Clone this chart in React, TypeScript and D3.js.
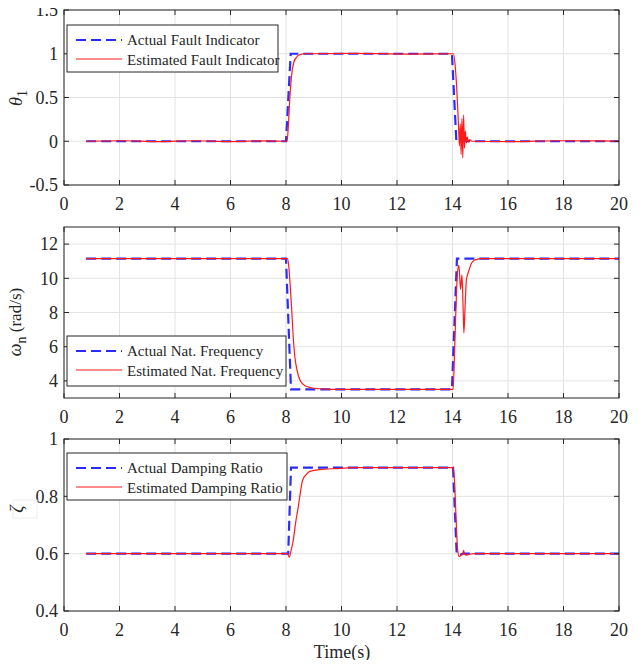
import React from 'react';
import * as d3 from 'd3';

// time axis ticks shared by all three panels
const timeTicks = [0, 2, 4, 6, 8, 10, 12, 14, 16, 18, 20];

// panel 1 : fault indicator theta_1
const actualFaultT = [0.8, 8.0, 8.17, 13.98, 14.14, 20];
const actualFaultV = [0, 0, 1, 1, 0, 0];
const estFaultT = [0.8, 2.1, 3.4, 4.7, 6.0, 7.3, 8.04, 8.08, 8.14, 8.2, 8.28, 8.38, 8.5, 8.7, 10.5, 12.4, 14.03, 14.1, 14.17, 14.22, 14.25, 14.28, 14.31, 14.34, 14.37, 14.4, 14.43, 14.46, 14.5, 14.53, 14.57, 14.62, 14.7, 16.2, 17.8, 19.3, 20];
const estFaultV = [0, 0.006, -0.005, 0.006, -0.004, 0.005, 0, 0.15, 0.5, 0.75, 0.9, 0.96, 0.99, 1, 1.005, 0.996, 1, 0.85, 0.5, 0.15, -0.05, 0.2, -0.15, 0.26, -0.19, 0.3, -0.08, 0.12, -0.02, 0.05, -0.01, 0.02, 0, -0.005, 0.006, 0.004, 0];
const faultTicks = [-0.5, 0, 0.5, 1, 1.5];

// panel 2 : natural frequency
const actualFreqT = [0.8, 8.0, 8.18, 13.98, 14.16, 20];
const actualFreqV = [11.15, 11.15, 3.5, 3.5, 11.15, 11.15];
const estFreqT = [0.8, 8.05, 8.1, 8.15, 8.2, 8.26, 8.32, 8.4, 8.5, 8.62, 8.75, 8.9, 9.2, 9.6, 10.2, 14.02, 14.08, 14.14, 14.19, 14.23, 14.29, 14.34, 14.38, 14.41, 14.45, 14.5, 14.56, 14.62, 14.69, 14.78, 14.88, 15.0, 20];
const estFreqV = [11.15, 11.15, 10.7, 9.6, 8.3, 6.6, 5.4, 4.6, 4.05, 3.8, 3.67, 3.6, 3.54, 3.51, 3.5, 3.5, 6.0, 9.0, 10.5, 10.76, 9.35, 10.2, 8.4, 6.8, 8.2, 9.9, 10.3, 10.6, 10.9, 11.05, 11.1, 11.15, 11.15];
const freqTicks = [4, 6, 8, 10, 12];

// panel 3 : damping ratio
const actualDampT = [0.8, 8.08, 8.18, 14.02, 14.15, 14.22, 14.4, 20];
const actualDampV = [0.6, 0.6, 0.9, 0.9, 0.6, 0.595, 0.6, 0.6];
const estDampT = [0.8, 8.05, 8.12, 8.18, 8.26, 8.35, 8.44, 8.52, 8.6, 8.72, 8.86, 9.2, 9.8, 10.5, 14.03, 14.08, 14.13, 14.18, 14.24, 14.3, 14.36, 14.4, 14.44, 14.5, 14.6, 14.8, 20];
const estDampV = [0.6, 0.6, 0.588, 0.61, 0.646, 0.71, 0.762, 0.815, 0.857, 0.875, 0.887, 0.893, 0.897, 0.9, 0.9, 0.84, 0.72, 0.62, 0.59, 0.595, 0.597, 0.612, 0.597, 0.595, 0.598, 0.6, 0.6];
const dampTicks = [0.4, 0.6, 0.8, 1];

const FONT = 'Liberation Serif, Times New Roman, serif';
const INK = '#262626';
const BLUE = '#2b2bff';
const RED = '#ff1a1a';
const LEFT = 64;
const RIGHT = 619;

const x = d3.scaleLinear().domain([0, 20]).range([LEFT, RIGHT]);

const zip = (t, v) => t.map((d, i) => [d, v[i]]);

const Panel = ({ id, top, bottom, domain, ticks, actual, est, legend, ylabel }) => {
  const y = d3.scaleLinear().domain(domain).range([bottom, top]);
  const lineA = d3.line().x((d) => x(d[0])).y((d) => y(d[1]));
  const lineE = d3.line().x((d) => x(d[0])).y((d) => y(d[1])).curve(d3.curveMonotoneX);
  return (
    <g>
      <defs>
        <clipPath id={id}>
          <rect x={LEFT} y={top} width={RIGHT - LEFT} height={bottom - top} />
        </clipPath>
      </defs>
      <rect x={LEFT} y={top} width={RIGHT - LEFT} height={bottom - top} fill="#fff" />
      {/* grid */}
      {timeTicks.map((t) => (
        <line key={'gx' + t} x1={x(t)} x2={x(t)} y1={top} y2={bottom} stroke="#e3e3e3" />
      ))}
      {ticks.map((v) => (
        <line key={'gy' + v} x1={LEFT} x2={RIGHT} y1={y(v)} y2={y(v)} stroke="#e3e3e3" />
      ))}
      <g clipPath={`url(#${id})`}>
        <path d={lineA(zip(actual[0], actual[1]))} fill="none" stroke={BLUE} strokeWidth={2.2} strokeDasharray="10 5" />
        <path d={lineE(zip(est[0], est[1]))} fill="none" stroke={RED} strokeWidth={1.2} />
      </g>
      {/* box + inward ticks */}
      <rect x={LEFT} y={top} width={RIGHT - LEFT} height={bottom - top} fill="none" stroke={INK} strokeWidth={1} />
      {timeTicks.map((t) => (
        <g key={'tx' + t}>
          <line x1={x(t)} x2={x(t)} y1={bottom} y2={bottom - 5} stroke={INK} />
          <line x1={x(t)} x2={x(t)} y1={top} y2={top + 5} stroke={INK} />
          <text x={x(t)} y={bottom + 25} textAnchor="middle" fontSize={18} fill={INK}>{t}</text>
        </g>
      ))}
      {ticks.map((v) => (
        <g key={'ty' + v}>
          <line x1={LEFT} x2={LEFT + 5} y1={y(v)} y2={y(v)} stroke={INK} />
          <line x1={RIGHT} x2={RIGHT - 5} y1={y(v)} y2={y(v)} stroke={INK} />
          <text x={LEFT - 6} y={y(v)} dy="0.35em" textAnchor="end" fontSize={18} fill={INK}>{String(v)}</text>
        </g>
      ))}
      {/* legend */}
      <g>
        <rect x={legend.x} y={legend.y} width={legend.w} height={legend.h} fill="#fff" stroke={INK} strokeWidth={1} />
        <line x1={legend.x + 9} x2={legend.x + 55} y1={legend.y + 15} y2={legend.y + 15} stroke={BLUE} strokeWidth={2.2} strokeDasharray="10 5" />
        <text x={legend.x + 60} y={legend.y + 20} fontSize={15} fill={INK}>{legend.labels[0]}</text>
        <line x1={legend.x + 9} x2={legend.x + 55} y1={legend.y + 34} y2={legend.y + 34} stroke={RED} strokeWidth={1.2} />
        <text x={legend.x + 60} y={legend.y + 40} fontSize={15} fill={INK}>{legend.labels[1]}</text>
      </g>
      {ylabel}
    </g>
  );
};

export default function App() {
  return (
    <svg width={641} height={668} style={{ display: 'block', margin: '-8px' }} fontFamily={FONT}>
      <rect width={641} height={668} fill="#fff" />
      <Panel
        id="c1"
        top={10}
        bottom={185}
        domain={[-0.5, 1.5]}
        ticks={faultTicks}
        actual={[actualFaultT, actualFaultV]}
        est={[estFaultT, estFaultV]}
        legend={{ x: 67, y: 25, w: 211, h: 47, labels: ['Actual Fault Indicator', 'Estimated Fault Indicator'] }}
        ylabel={
          <text transform="translate(22,98) rotate(-90)" fontSize={18} fill={INK} textAnchor="middle">
            <tspan fontStyle="italic">θ</tspan>
            <tspan dy={5} fontSize={14}>1</tspan>
          </text>
        }
      />
      <Panel
        id="c2"
        top={227}
        bottom={398}
        domain={[3, 13]}
        ticks={freqTicks}
        actual={[actualFreqT, actualFreqV]}
        est={[estFreqT, estFreqV]}
        legend={{ x: 67, y: 336, w: 219, h: 50, labels: ['Actual Nat. Frequency', 'Estimated Nat. Frequency'] }}
        ylabel={
          <text transform="translate(21,322) rotate(-90)" fontSize={17} fill={INK} textAnchor="middle">
            <tspan fontStyle="italic" fontSize={18}>ω</tspan>
            <tspan dy={5} fontSize={14}>n</tspan>
            <tspan dy={-5}> (rad/s)</tspan>
          </text>
        }
      />
      <Panel
        id="c3"
        top={439}
        bottom={611}
        domain={[0.4, 1]}
        ticks={dampTicks}
        actual={[actualDampT, actualDampV]}
        est={[estDampT, estDampV]}
        legend={{ x: 67, y: 453, w: 220, h: 47, labels: ['Actual Damping Ratio', 'Estimated Damping Ratio'] }}
        ylabel={
          <g>
            <rect x={13} y={500} width={24} height={18} fill="#fff" stroke="#eeeeee" />
            <text transform="translate(23,509) rotate(-90)" fontSize={18} fill={INK} textAnchor="middle" fontStyle="italic">ζ</text>
          </g>
        }
      />
      <text x={342} y={658} textAnchor="middle" fontSize={18} fill={INK}>Time(s)</text>
    </svg>
  );
}
